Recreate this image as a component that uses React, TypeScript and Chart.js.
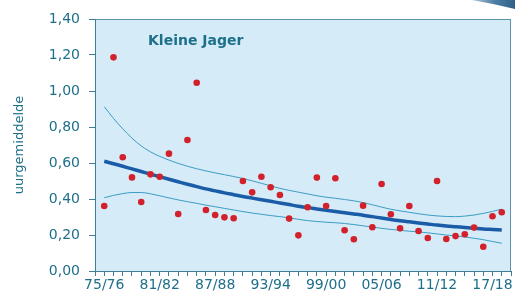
import React, { useEffect, useRef } from "react";
import { Chart, registerables } from "chart.js";

Chart.register(...registerables);

const seasons = [
  "75/76","76/77","77/78","78/79","79/80","80/81","81/82","82/83","83/84","84/85",
  "85/86","86/87","87/88","88/89","89/90","90/91","91/92","92/93","93/94","94/95",
  "95/96","96/97","97/98","98/99","99/00","00/01","01/02","02/03","03/04","04/05",
  "05/06","06/07","07/08","08/09","09/10","10/11","11/12","12/13","13/14","14/15",
  "15/16","16/17","17/18","18/19",
];

const observed = [
  0.361, 1.187, 0.632, 0.52, 0.383, 0.537, 0.524, 0.652, 0.317, 0.728,
  1.046, 0.339, 0.311, 0.298, 0.293, 0.5, 0.437, 0.524, 0.465, 0.422,
  0.291, 0.198, 0.354, 0.519, 0.361, 0.515, 0.226, 0.176, 0.363, 0.243,
  0.483, 0.315, 0.237, 0.361, 0.222, 0.183, 0.5, 0.178, 0.194, 0.204,
  0.241, 0.135, 0.304, 0.326,
];

const trend = [
  0.61, 0.596, 0.582, 0.567, 0.553, 0.538, 0.524, 0.51, 0.496, 0.482,
  0.469, 0.456, 0.445, 0.434, 0.424, 0.414, 0.405, 0.396, 0.387, 0.378,
  0.369, 0.36, 0.352, 0.345, 0.338, 0.331, 0.324, 0.317, 0.31, 0.302,
  0.294, 0.286, 0.279, 0.273, 0.267, 0.261, 0.255, 0.25, 0.246, 0.242,
  0.238, 0.234, 0.231, 0.228,
];

const upper = [
  0.913, 0.848, 0.79, 0.738, 0.695, 0.662, 0.637, 0.616, 0.598, 0.582,
  0.568, 0.556, 0.545, 0.535, 0.525, 0.514, 0.501, 0.487, 0.473, 0.459,
  0.448, 0.438, 0.428, 0.418, 0.41, 0.404, 0.397, 0.39, 0.38, 0.368,
  0.355, 0.343, 0.334, 0.326, 0.318, 0.311, 0.306, 0.303, 0.302, 0.305,
  0.311, 0.32, 0.331, 0.344,
];

const lower = [
  0.407, 0.42, 0.43, 0.436, 0.436, 0.429, 0.418, 0.406, 0.395, 0.385,
  0.376, 0.366, 0.357, 0.348, 0.339, 0.33, 0.322, 0.315, 0.308, 0.302,
  0.295, 0.287, 0.28, 0.275, 0.271, 0.268, 0.264, 0.258, 0.251, 0.244,
  0.237, 0.231, 0.226, 0.221, 0.217, 0.212, 0.206, 0.2, 0.195, 0.189,
  0.182, 0.174, 0.164, 0.154,
];

const labelEvery = 6;
const chartTitle = "Kleine Jager";
const yTitle = "uurgemiddelde";

const TEAL = "#1d6f8a";
const FONT = "'DejaVu Sans', Verdana, sans-serif";

const toXY = (arr: number[]) => arr.map((v, i) => ({ x: i, y: v }));

const bgPlugin = {
  id: "bgPlugin",
  beforeDraw(chart: any) {
    const { ctx, chartArea } = chart;
    const { left, top, right, bottom } = chartArea;
    ctx.save();
    ctx.fillStyle = "#d5ebf8";
    ctx.fillRect(left, top, right - left, bottom - top);
    ctx.strokeStyle = "#5b95a8";
    ctx.lineWidth = 1;
    ctx.strokeRect(left + 0.5, top + 0.5, right - left - 1, bottom - top);
    const w = chart.width;
    const g = ctx.createLinearGradient(w - 42, 0, w, 8);
    g.addColorStop(0, "#a9c3d8");
    g.addColorStop(0.5, "#4f7fa6");
    g.addColorStop(1, "#2f5f86");
    ctx.fillStyle = g;
    ctx.beginPath();
    ctx.moveTo(w - 43, 0);
    ctx.lineTo(w, 0);
    ctx.lineTo(w, 9);
    ctx.quadraticCurveTo(w - 20, 4, w - 43, 0);
    ctx.closePath();
    ctx.fill();
    ctx.restore();
  },
  afterDraw(chart: any) {
    const { ctx, chartArea } = chart;
    ctx.save();
    ctx.fillStyle = TEAL;
    ctx.font = `bold 14px ${FONT}`;
    ctx.textBaseline = "middle";
    ctx.textAlign = "left";
    ctx.fillText(chartTitle, chartArea.left + 53, chartArea.top + 22);
    ctx.restore();
  },
};

export default function App() {
  const canvasRef = useRef<HTMLCanvasElement | null>(null);

  useEffect(() => {
    document.body.style.margin = "0";
    const canvas = canvasRef.current;
    if (!canvas) return;
    const chart = new Chart(canvas, {
      type: "line",
      data: {
        datasets: [
          {
            label: "upper",
            data: toXY(upper),
            borderColor: "#3d9cc4",
            borderWidth: 1,
            pointRadius: 0,
            cubicInterpolationMode: "monotone",
            order: 3,
          },
          {
            label: "lower",
            data: toXY(lower),
            borderColor: "#3d9cc4",
            borderWidth: 1,
            pointRadius: 0,
            cubicInterpolationMode: "monotone",
            order: 3,
          },
          {
            label: "trend",
            data: toXY(trend),
            borderColor: "#1a5ca8",
            borderWidth: 3.5,
            pointRadius: 0,
            cubicInterpolationMode: "monotone",
            order: 2,
          },
          {
            label: "observed",
            data: toXY(observed),
            showLine: false,
            pointRadius: 3.3,
            pointBackgroundColor: "#d3212b",
            pointBorderWidth: 0,
            borderColor: "#d3212b",
            order: 1,
          },
        ],
      },
      options: {
        animation: false,
        responsive: false,
        layout: { padding: { top: 19, right: 3, left: 0, bottom: 0 } },
        plugins: { legend: { display: false }, tooltip: { enabled: false } },
        scales: {
          x: {
            type: "linear",
            min: -1,
            max: 44,
            afterFit: (s: any) => {
              s.height = 27;
            },
            afterBuildTicks: (s: any) => {
              const t = [];
              for (let i = -1; i <= 44; i++) t.push({ value: i });
              s.ticks = t;
            },
            ticks: {
              autoSkip: false,
              maxRotation: 0,
              color: TEAL,
              font: { family: FONT, size: 14 },
              padding: 1,
              callback: (v: any) => {
                const i = Number(v);
                return i >= 0 && i < seasons.length && i % labelEvery === 0 ? seasons[i] : "";
              },
            },
            grid: {
              drawOnChartArea: false,
              drawTicks: true,
              tickLength: 5,
              color: "#3f7f96",
            },
            border: { display: true, color: "#3f7f96", width: 1 },
          },
          y: {
            min: 0,
            max: 1.4,
            afterFit: (s: any) => {
              s.width = 95;
            },
            ticks: {
              stepSize: 0.2,
              color: TEAL,
              font: { family: FONT, size: 14 },
              padding: 9,
              callback: (v: any) => Number(v).toFixed(2).replace(".", ","),
            },
            grid: {
              drawOnChartArea: false,
              drawTicks: true,
              tickLength: 6,
              color: "#3f7f96",
            },
            border: { display: true, color: "#3f7f96", width: 1 },
            title: {
              display: true,
              text: yTitle,
              color: TEAL,
              font: { family: FONT, size: 13 },
              padding: { top: 12, bottom: 0 },
            },
          },
        },
      },
      plugins: [bgPlugin],
    } as any);
    return () => chart.destroy();
  }, []);

  return (
    <div style={{ width: 515, height: 298 }}>
      <canvas ref={canvasRef} width={515} height={298} style={{ display: "block" }} />
    </div>
  );
}
